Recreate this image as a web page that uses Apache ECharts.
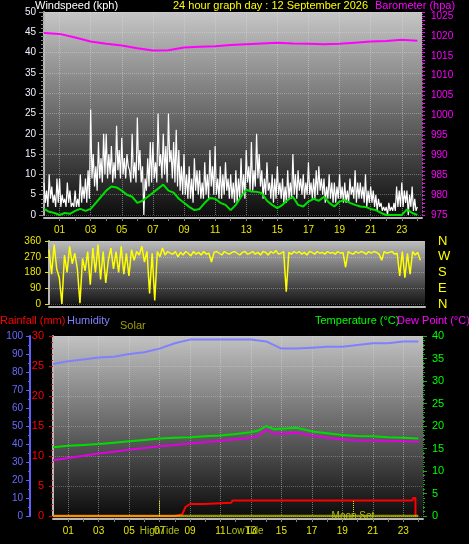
<!DOCTYPE html>
<html><head><meta charset="utf-8">
<script src="https://cdn.jsdelivr.net/npm/echarts@6/dist/echarts.min.js"></script>
<style>html,body{margin:0;padding:0;background:#000;}#c{width:469px;height:544px;}</style>
</head><body><div id="c"></div>
<script>
// ---- tick labels ----
const hourLabels = ['01','03','05','07','09','11','13','15','17','19','21','23'];
const dirLetters = {0:'N',90:'E',180:'S',270:'W',360:'N'};

// ---- wind gust (5-minute samples from 00:00) ----
const windGust = [
  8,3,6,2,10,4,7,3,5,2,9,3,
  9,2,5,3,4,2,8,3,6,2,3,2,
  6,2,4,2,10,3,7,4,9,3,11,4,
  26,9,15,7,12,6,18,9,14,8,20,10,
  20,9,15,10,17,8,13,9,22,11,16,9,
  19,10,14,9,15,12,11,8,20,9,13,8,
  24,11,16,8,12,0,9,6,14,7,18,8,
  18,9,13,8,25,12,15,9,20,10,17,8,
  25,13,16,9,18,8,21,7,16,6,12,5,
  15,5,10,4,12,4,9,3,14,6,11,5,
  11,4,8,4,13,5,10,4,16,7,12,5,
  17,5,9,4,12,4,10,5,13,6,9,4,
  10,4,8,3,11,3,9,4,14,5,10,4,
  16,8,12,6,18,6,11,7,20,9,15,7,
  11,4,9,5,13,6,8,4,10,3,9,4,
  12,5,8,4,9,3,7,3,11,4,8,4,
  15,5,10,4,11,6,9,5,10,4,8,5,
  13,5,8,4,9,4,11,5,12,6,9,5,
  9,3,7,4,10,4,8,3,8,3,7,4,
  10,4,7,3,8,3,6,3,9,5,7,4,
  11,3,8,4,8,4,7,3,10,2,6,3,
  7,3,6,2,5,1,4,2,3,1,2,1,
  2,0,3,1,2,1,3,1,7,2,6,2,
  8,2,6,3,6,0,5,2,7,1,4,1,
  2];
// ---- average wind (20-minute samples) ----
const windAvg = [1.5,0.8,0.5, 0,0.5,0.3, 1,1.5,1, 1.5,3,4.5, 6,7,6.8, 6,5,4.5,
  3,3.5,4.5, 5.5,6.5,7.5, 6,5.5,4, 3,2,1.2, 1.5,3,4.2, 4,3,2.5, 1.2,2.5,4.5,
  6.2,5.8,5.7, 5.4,3.5,2.5, 1.7,2.5,3.7, 4.5,2.5,2.1, 3.3,4,3.5, 4.5,3,2.1,
  3.3,3.7,3, 2.5,2.1,2, 1.5,1.2,0.5, 0,0,0, 0,1.4,0.5, 0];
// ---- barometer (hourly) ----
const baro = [1020.7,1020.5,1019.6,1018.6,1018.0,1017.6,1016.9,1016.3,1016.4,1017.1,
  1017.3,1017.4,1017.7,1017.9,1018.1,1018.3,1018.1,1018.0,1017.9,1018.0,1018.3,
  1018.6,1018.7,1019.0,1018.8];
// ---- wind direction (10-minute samples) ----
const windDir = [310,170,340,200,150,0, 280,180,330,230,290,200, 5,260,190,300,110,320,
  180,340,140,300,120,250, 320,200,300,180,330,170, 290,160,310,250,300,280,
  330,240,300,60,290,20, 300,270,320,280,300,290, 285,300,270,295,280,300,
  290,275,300,285,295,280, 300,285,290,240,295,300, 290,280,300,290,285,295,
  300,290,280,295,300,285, 290,300,285,295,280,300, 295,280,300,290,305,285,
  290,300,70,295,285,300, 290,300,285,295,280,300, 295,285,300,290,295,285,
  300,290,295,285,300,290, 295,210,300,290,285,300, 290,300,295,285,300,290,
  300,295,285,250,300,290, 295,300,285,290,160,300, 150,290,170,300,280,295, 250];
// ---- humidity (hourly) ----
const humidity = [84.5,86,87,88,88.5,90,91,93,96,98,98,98,98,98,97,93,93,93.5,94,94,95,96,96,97,97];
// ---- temperature & dew point ----
const tempHours = [0,1,2,3,4,5,6,7,8,9,10,11,12,13,13.5,14,14.5,15,16,17,18,19,20,21,22,23,24];
const temperature = [15.3,15.6,15.8,16.0,16.3,16.6,16.9,17.2,17.4,17.5,17.7,17.9,18.2,18.6,19.0,20.0,19.3,19.4,19.6,18.8,18.4,18.0,17.8,17.7,17.5,17.4,17.2];
const dewPoint = [12.4,12.9,13.4,13.9,14.3,14.7,15.1,15.5,15.8,16.1,16.4,16.7,17.0,17.4,17.8,19.2,18.3,18.3,18.5,17.9,17.4,17.0,16.8,16.8,16.7,16.6,16.5];
// ---- rainfall ----
const rainHours = [0,8.0,8.01,8.5,8.7,9.0,9.9,10.0,11.7,11.8,23.6,23.65,23.8,23.81];
const rainfall = [0,0,0.2,0.3,1.5,2.0,2.0,2.2,2.2,2.6,2.6,3.0,3.0,0];
// ---- solar ----
const solarHours = [0,24];
const solar = [0,0];
// ---- events ----
const eventHours = [7.0,12.6,19.7];
const eventNames = ['HighTide','LowTide','Moon Set'];

const FONT = 'Liberation Sans';
const XMAX = 24.3;
function series5(arr){return arr.map((v,i)=>[i/12,v]);}
function series10(arr){return arr.map((v,i)=>[i/6,v]);}
function series20(arr){return arr.map((v,i)=>[i/3,v]);}
function hourly(arr){return arr.map((v,i)=>[i,v]);}
function pairs(h,v){return h.map((x,i)=>[x,v[i]]);}
function hourFmt(v){ if(Number.isInteger(v) && v%2===1) return hourLabels[(v-1)/2]; return ''; }

function grad(top,bottom){
  return new echarts.graphic.LinearGradient(0,0,0,1,[{offset:0,color:top},{offset:1,color:bottom}]);
}
function xAxisFor(gi, showLabels, labelColor){
  return {
    type:'value', gridIndex:gi, min:0, max:XMAX, interval:1, offset:3,
    axisLine:{show:true, onZero:false, lineStyle:{color:'#b8b8b8', width:2}},
    axisTick:{show:showLabels, length:3, lineStyle:{color:'#808080'}},
    axisLabel:{show:showLabels, formatter:hourFmt, color:labelColor, fontSize:10, fontFamily:FONT, margin:7,
      showMinLabel:false, showMaxLabel:false},
    splitLine:{show:showLabels, lineStyle:{type:'dotted', color:['rgba(0,0,0,0)','rgba(225,225,225,0.45)']}}
  };
}
function head(text,left,top,color){
  return {text:text, left:left, top:top, padding:0, textStyle:{color:color, fontSize:11, fontWeight:'normal', fontFamily:FONT}};
}

const chart = echarts.init(document.getElementById('c'), null, {renderer:'canvas'});
const option = {
  backgroundColor:'#000',
  animation:false,
  title:[
    head('Windspeed (kph)',35,0,'#ffffff'),
    head('24 hour graph day : 12 September 2026',173,0,'#ffff00'),
    head('Barometer (hpa)',375,0,'#ff00ff'),
    head('Rainfall (mm)',0,315,'#ff0000'),
    head('Humidity',67,315,'#8080ff'),
    head('Solar',120,320,'#a0a000'),
    head('Temperature (°C)',315,315,'#00ff00'),
    head('Dew Point (°C)',397,315,'#ff00ff')
  ],
  grid:[
    {left:44, right:47, top:12, height:203, show:true, borderWidth:0, backgroundColor:grad('#c6c6c6','#0e0e0e')},
    {left:49, right:44, top:241, height:63, show:true, borderWidth:0, backgroundColor:grad('#bdbdbd','#161616')},
    {left:53, right:46, top:336, height:180, show:true, borderWidth:0, backgroundColor:grad('#c2c2c2','#0c0c0c')}
  ],
  xAxis:[
    xAxisFor(0,true,'#e8e800'),
    xAxisFor(1,false,'#e8e800'),
    xAxisFor(2,true,'#e8e800')
  ],
  yAxis:[
    {type:'value', gridIndex:0, min:0, max:50, interval:5, position:'left',
      axisLine:{show:true, lineStyle:{color:'#b8b8b8', width:2}},
      axisTick:{show:true, length:5, lineStyle:{color:'#8a8a8a'}},
      minorTick:{show:true, splitNumber:5, length:3, lineStyle:{color:'#8a8a8a'}},
      axisLabel:{color:'#eef0ff', fontSize:10, fontFamily:FONT, margin:8},
      splitLine:{show:true, lineStyle:{type:'dotted', color:'rgba(230,230,230,0.35)'}}},
    {type:'value', gridIndex:0, min:975, max:1026, interval:5, position:'right',
      axisLine:{show:false},
      axisTick:{show:true, length:3, lineStyle:{color:'#ff00ff'}},
      minorTick:{show:true, splitNumber:5, length:3, lineStyle:{color:'#ff00ff'}},
      axisLabel:{color:'#ff00ff', fontSize:10, fontFamily:FONT, margin:9, formatter:v=> v%5===0 ? String(v) : ''},
      splitLine:{show:false}},
    {type:'value', gridIndex:1, min:0, max:360, interval:90, position:'left',
      axisLine:{show:true, lineStyle:{color:'#b8b8b8', width:2}},
      axisTick:{show:true, length:4, lineStyle:{color:'#e0e000'}},
      axisLabel:{color:'#e8e800', fontSize:10, fontFamily:FONT, margin:8},
      splitLine:{show:true, lineStyle:{type:'dotted', color:'rgba(230,230,230,0.35)'}}},
    {type:'value', gridIndex:1, min:0, max:360, interval:90, position:'right',
      axisLine:{show:false}, axisTick:{show:false},
      axisLabel:{color:'#ffff00', fontSize:13, fontFamily:FONT, margin:13, formatter:v=>dirLetters[v]||''},
      splitLine:{show:false}},
    {type:'value', gridIndex:2, min:0, max:30, interval:5, position:'left',
      axisLine:{show:true, lineStyle:{color:'#b8b8b8', width:2}},
      axisTick:{show:true, length:4, lineStyle:{color:'#d00000'}},
      minorTick:{show:true, splitNumber:5, length:2, lineStyle:{color:'#d00000'}},
      axisLabel:{color:'#ff0000', fontSize:11, fontFamily:FONT, margin:9},
      splitLine:{show:true, lineStyle:{type:'dotted', color:'rgba(230,230,230,0.3)'}}},
    {type:'value', gridIndex:2, min:0, max:100, interval:10, position:'left', offset:23,
      axisLine:{show:true, lineStyle:{color:'#6060ff', width:2}},
      axisTick:{show:true, length:4, lineStyle:{color:'#6060ff'}},
      minorTick:{show:true, splitNumber:2, length:2, lineStyle:{color:'#6060ff'}},
      axisLabel:{color:'#6a6aff', fontSize:10, fontFamily:FONT, margin:7},
      splitLine:{show:false}},
    {type:'value', gridIndex:2, min:0, max:40, interval:5, position:'right',
      axisLine:{show:false},
      axisTick:{show:true, length:4, lineStyle:{color:'#00c000'}},
      minorTick:{show:true, splitNumber:5, length:2, lineStyle:{color:'#00c000'}},
      axisLabel:{color:'#00ff00', fontSize:11, fontFamily:FONT, margin:9},
      splitLine:{show:false}}
  ],
  series:[
    {type:'line', name:'Gust', xAxisIndex:0, yAxisIndex:0, data:series5(windGust), showSymbol:false,
      lineStyle:{color:'#ffffff', width:1.2}},
    {type:'line', name:'Wind', xAxisIndex:0, yAxisIndex:0, data:series20(windAvg), showSymbol:false,
      lineStyle:{color:'#00e000', width:2}},
    {type:'line', name:'Barometer', xAxisIndex:0, yAxisIndex:1, data:hourly(baro), showSymbol:false,
      lineStyle:{color:'#ff00ff', width:2}},
    {type:'line', name:'Direction', xAxisIndex:1, yAxisIndex:2, data:series10(windDir), showSymbol:false,
      lineStyle:{color:'#ffff00', width:1.5}},
    {type:'line', name:'Humidity', xAxisIndex:2, yAxisIndex:5, data:hourly(humidity), showSymbol:false,
      lineStyle:{color:'#8080ff', width:2}},
    {type:'line', name:'Dew Point', xAxisIndex:2, yAxisIndex:6, data:pairs(tempHours,dewPoint), showSymbol:false,
      lineStyle:{color:'#e000e0', width:2}},
    {type:'line', name:'Temperature', xAxisIndex:2, yAxisIndex:6, data:pairs(tempHours,temperature), showSymbol:false,
      lineStyle:{color:'#00dd00', width:2}},
    {type:'line', name:'Rainfall', xAxisIndex:2, yAxisIndex:4, data:pairs(rainHours,rainfall), showSymbol:false,
      lineStyle:{color:'#ff0000', width:2}},
    {type:'line', name:'Solar', xAxisIndex:2, yAxisIndex:4, data:pairs(solarHours,solar), showSymbol:false, clip:false,
      lineStyle:{color:'rgba(255,255,0,0.55)', width:2.5},
      markLine:{silent:true, symbol:'none', label:{show:false},
        lineStyle:{color:'#e8e800', type:'dotted', width:1},
        data:[
          [{coord:[eventHours[0],0]},{coord:[eventHours[0],2.7]}],
          [{coord:[eventHours[1],-0.6]},{coord:[eventHours[1],0.6]}],
          [{coord:[eventHours[2],0]},{coord:[eventHours[2],2.6]}]
        ]},
      markPoint:{silent:true, symbol:'circle', symbolSize:0,
        data: eventHours.map((h,i)=>({coord:[h,0], label:{show:true, formatter:eventNames[i], color:'#b0c010', fontSize:10, fontFamily:FONT, offset:[0, i===2?0:15]}}))}
    }
  ]
};
chart.setOption(option);
</script>
</body></html>
